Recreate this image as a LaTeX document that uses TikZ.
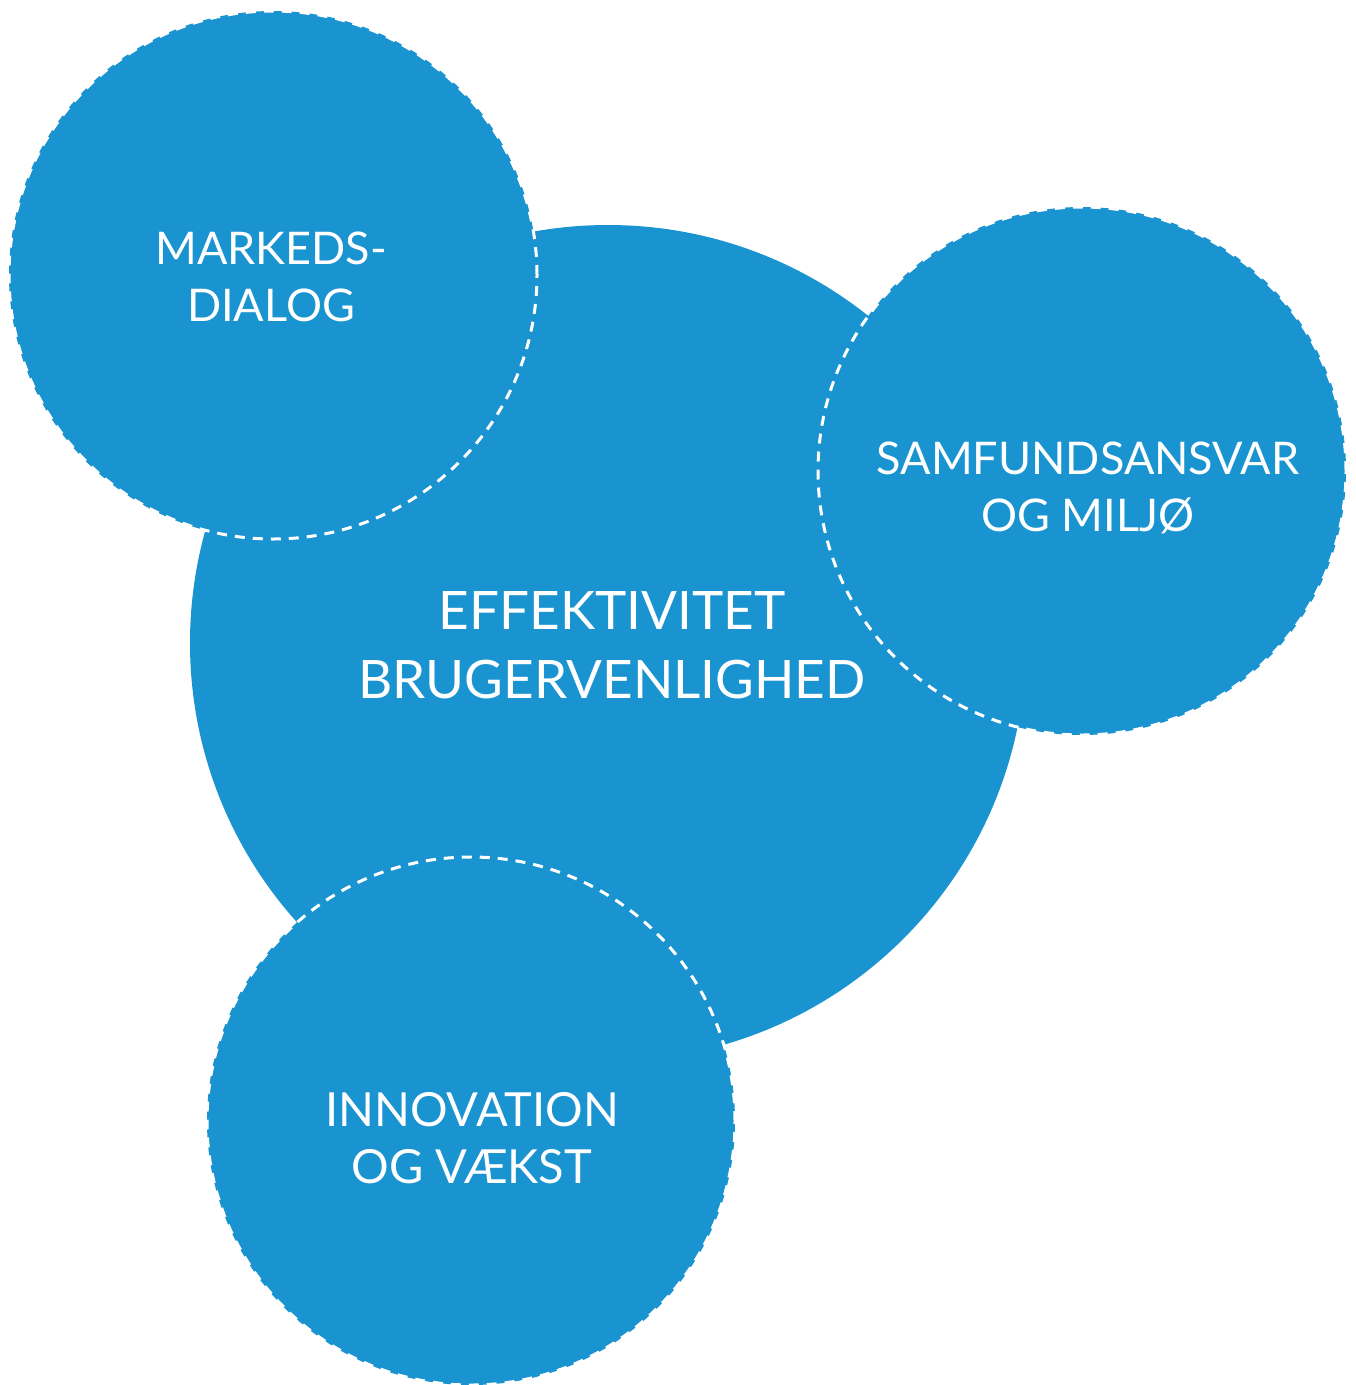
\documentclass[tikz,border=0pt]{standalone}
\usepackage{fontspec}
\setmainfont{Lato}
\definecolor{topicblue}{RGB}{26,147,209}
\begin{document}
\begin{tikzpicture}[x=1pt,y=-1pt,
  bigdisc/.style={circle,fill=topicblue,inner sep=0pt,minimum size=836pt},
  smalldisc/.style={circle,fill=topicblue,draw=white,line width=3pt,
    dash pattern=on 10pt off 8pt,inner sep=0pt,minimum size=528pt},
  bigtext/.style={text=white,align=center,inner sep=0pt,font=\fontsize{53}{69}\selectfont},
  smalltext/.style={text=white,align=center,inner sep=0pt,font=\fontsize{45}{57}\selectfont}]
\useasboundingbox (0,0) rectangle (1356,1385);
\node[bigdisc] (core) at (608,643) {};
\node[smalldisc] (markeds) at (273,275) {};
\node[smalldisc] (samfund) at (1082,471) {};
\node[smalldisc] (innov) at (471,1121) {};
\node[bigtext] (coretxt) at (612,645) {EFFEKTIVITET\\BRUGERVENLIGHED};
\node[smalltext] (markedstxt) at (271,277) {MARKEDS-\\DIALOG};
\node[smalltext] (samfundtxt) at (1088,488) {SAMFUNDSANSVAR\\OG MILJØ};
\node[smalltext,font=\fontsize{47}{57}\selectfont] (innovtxt) at (472,1138) {INNOVATION\\OG VÆKST};
\end{tikzpicture}
\end{document}
